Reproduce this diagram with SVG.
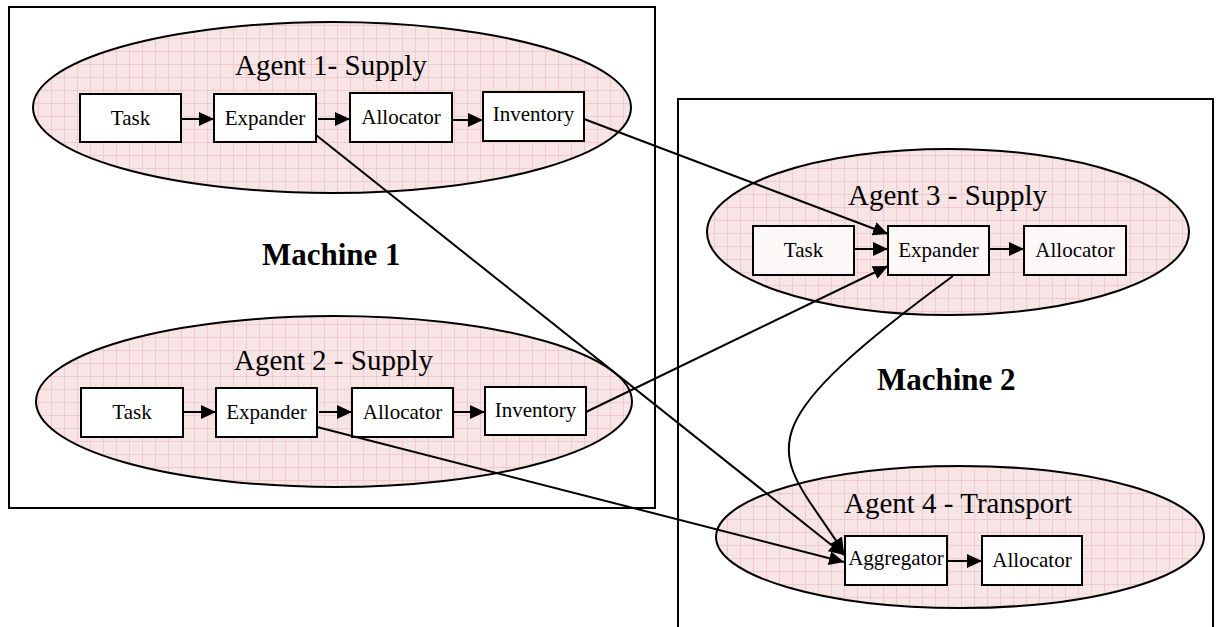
<svg xmlns="http://www.w3.org/2000/svg" width="1217" height="627" viewBox="0 0 1217 627">
  <style>
    .machine { fill: none; stroke: #000; stroke-width: 2; }
    .agent { fill: url(#grid); stroke: #000; stroke-width: 2; }
    .box { fill: #fff; stroke: #000; stroke-width: 2; }
    .box-soft { fill: #fff; fill-opacity: 0.78; stroke: #000; stroke-width: 2; }
    .lbl { font-family: "Liberation Serif", "Times New Roman", serif; font-size: 21px; fill: #000; text-anchor: middle; }
    .title { font-family: "Liberation Serif", "Times New Roman", serif; font-size: 29px; fill: #000; }
    .mach { font-family: "Liberation Serif", "Times New Roman", serif; font-size: 31px; font-weight: bold; fill: #000; }
    .conn { fill: none; stroke: #000; stroke-width: 2; marker-end: url(#arrow); }
  </style>
  <defs>
    <pattern id="grid" width="13" height="13" patternUnits="userSpaceOnUse">
      <rect width="13" height="13" fill="#f7e4e5"/>
      <path d="M12.5 0V13M0 12.5H13" stroke="#efcbd0" stroke-width="1"/>
    </pattern>
    <marker id="arrow" markerUnits="userSpaceOnUse" markerWidth="16" markerHeight="14" refX="15" refY="7" orient="auto">
      <path d="M0,0 L15,7 L0,14 z" fill="#000"/>
    </marker>
  </defs>

  <!-- machine frames -->
  <g id="machine1">
    <rect class="machine" x="9" y="7" width="646" height="501"/>
    <text class="mach" x="262" y="265">Machine 1</text>
  </g>
  <g id="machine2">
    <rect class="machine" x="678" y="99" width="535" height="560"/>
    <text class="mach" x="877" y="390">Machine 2</text>
  </g>

  <!-- Agent 1 -->
  <g id="agent1">
    <ellipse class="agent" cx="332" cy="107.5" rx="299" ry="85.5"/>
    <text class="title" x="235" y="75">Agent 1- Supply</text>
  </g>
  <g id="a1-task"><rect class="box" x="80" y="94" width="101" height="48"/><text class="lbl" x="130.5" y="125">Task</text></g>
  <g id="a1-expander"><rect class="box" x="214" y="94" width="102" height="48"/><text class="lbl" x="265" y="125">Expander</text></g>
  <g id="a1-allocator"><rect class="box" x="350" y="93" width="102" height="49"/><text class="lbl" x="401" y="124">Allocator</text></g>
  <g id="a1-inventory"><rect class="box" x="483" y="92" width="101" height="49"/><text class="lbl" x="533.5" y="121">Inventory</text></g>

  <!-- Agent 2 -->
  <g id="agent2">
    <ellipse class="agent" cx="334" cy="401.5" rx="298" ry="85.5"/>
    <text class="title" x="234" y="370">Agent 2 - Supply</text>
  </g>
  <g id="a2-task"><rect class="box" x="81" y="388" width="102" height="49"/><text class="lbl" x="132" y="419">Task</text></g>
  <g id="a2-expander"><rect class="box" x="216" y="388" width="101" height="49"/><text class="lbl" x="266.5" y="419">Expander</text></g>
  <g id="a2-allocator"><rect class="box" x="352" y="388" width="101" height="49"/><text class="lbl" x="402.5" y="419">Allocator</text></g>
  <g id="a2-inventory"><rect class="box" x="485" y="387" width="101" height="48"/><text class="lbl" x="535.5" y="417">Inventory</text></g>

  <!-- Agent 3 -->
  <g id="agent3">
    <ellipse class="agent" cx="948" cy="232" rx="241" ry="83"/>
    <text class="title" x="848" y="205">Agent 3 - Supply</text>
  </g>
  <g id="a3-task"><rect class="box-soft" x="753" y="226" width="101" height="49"/><text class="lbl" x="803.5" y="257">Task</text></g>
  <g id="a3-expander"><rect class="box-soft" x="888" y="226" width="101" height="49"/><text class="lbl" x="938.5" y="257">Expander</text></g>
  <g id="a3-allocator"><rect class="box-soft" x="1024" y="226" width="102" height="49"/><text class="lbl" x="1075" y="257">Allocator</text></g>

  <!-- Agent 4 -->
  <g id="agent4">
    <ellipse class="agent" cx="960" cy="537" rx="244" ry="71"/>
    <text class="title" x="844" y="513">Agent 4 - Transport</text>
  </g>
  <g id="a4-aggregator"><rect class="box" x="845" y="536" width="102" height="49"/><text class="lbl" x="896" y="565">Aggregator</text></g>
  <g id="a4-allocator"><rect class="box" x="982" y="536" width="100" height="49"/><text class="lbl" x="1032" y="567">Allocator</text></g>

  <!-- connectors -->
  <g id="connectors">
    <line class="conn" x1="181" y1="119" x2="214" y2="119"/>
    <line class="conn" x1="318" y1="119" x2="350" y2="119"/>
    <line class="conn" x1="452" y1="120" x2="483" y2="120"/>

    <line class="conn" x1="183" y1="412" x2="216" y2="412"/>
    <line class="conn" x1="319" y1="412" x2="352" y2="412"/>
    <line class="conn" x1="453" y1="412" x2="485" y2="412"/>

    <line class="conn" x1="854" y1="249" x2="888" y2="249"/>
    <line class="conn" x1="990" y1="249" x2="1024" y2="249"/>

    <line class="conn" x1="948" y1="561" x2="982" y2="561"/>

    <line class="conn" x1="584" y1="119" x2="888" y2="234"/>
    <line class="conn" x1="586" y1="412" x2="888" y2="266"/>

    <line class="conn" x1="316" y1="135" x2="844" y2="555"/>
    <line class="conn" x1="317" y1="427" x2="844" y2="562"/>
    <path class="conn" d="M953,276 C727,442 780,451 844,553"/>
  </g>
</svg>
